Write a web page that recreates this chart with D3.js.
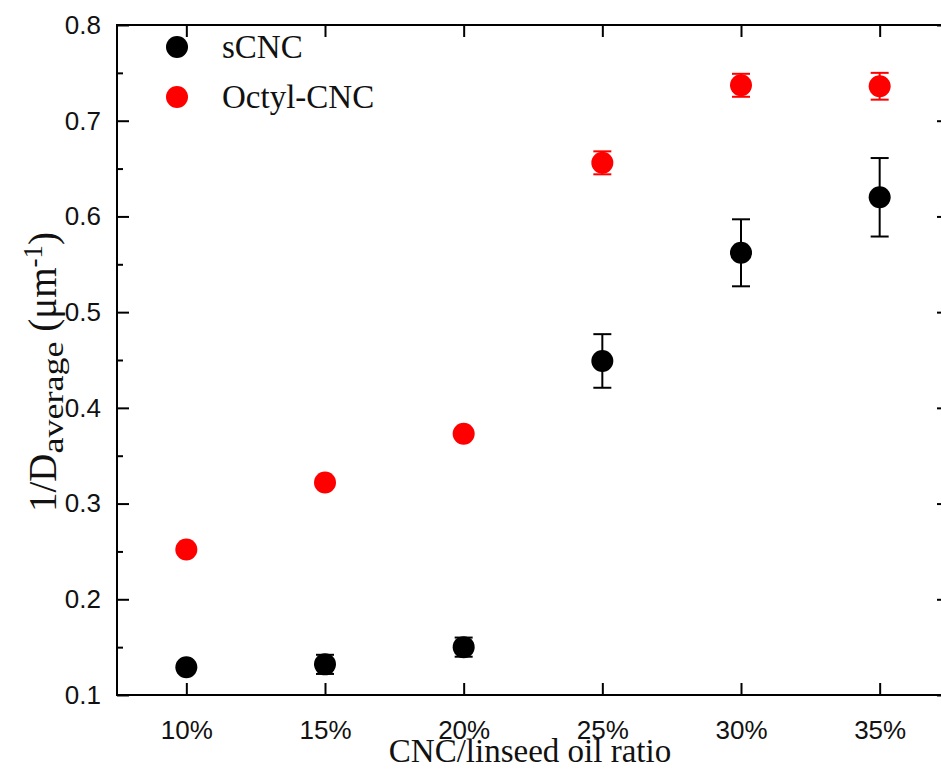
<!DOCTYPE html>
<html><head><meta charset="utf-8">
<script src="https://cdn.jsdelivr.net/npm/d3@7"></script>
<style>body{margin:0;background:#fff}svg{display:block}</style>
</head><body>
<svg id="c" width="941" height="774"></svg>
<script>
const categories = ["10%","15%","20%","25%","30%","35%"];
const sCNC = [0.129, 0.132, 0.150, 0.449, 0.562, 0.620];
const sCNCerr = [0.004, 0.010, 0.010, 0.028, 0.035, 0.041];
const octyl = [0.252, 0.322, 0.373, 0.656, 0.737, 0.736];
const octylErr = [0.003, 0.004, 0.004, 0.012, 0.012, 0.014];
const yTicks = [0.1,0.2,0.3,0.4,0.5,0.6,0.7,0.8];
const yMinor = [0.15,0.25,0.35,0.45,0.55,0.65,0.75];
const seriesNames = ["sCNC","Octyl-CNC"];
const seriesColors = ["#000000","#ff0000"];

const svg = d3.select("#c");
const L=117, R=949, T=25, B=695;
const x = d3.scaleLinear().domain([-0.5,5.5]).range([L,R]);
const y = d3.scaleLinear().domain([0.1,0.8]).range([B,T]);
const idx = categories.map((d,i)=>i);

svg.append("rect").attr("x",L).attr("y",T).attr("width",R-L).attr("height",B-T)
  .attr("fill","none").attr("stroke","#000").attr("stroke-width",2);

const tickFont = "'Liberation Sans', Arial, sans-serif";
const xb = svg.append("g").attr("transform",`translate(0,${B})`)
  .call(d3.axisBottom(x).tickValues(idx).tickFormat(i=>categories[i]).tickSize(-12).tickPadding(26));
const xt = svg.append("g").attr("transform",`translate(0,${T})`)
  .call(d3.axisTop(x).tickValues(idx).tickFormat("").tickSize(-12));
const yl = svg.append("g").attr("transform",`translate(${L},0)`)
  .call(d3.axisLeft(y).tickValues(yTicks).tickFormat(d3.format(".1f")).tickSize(-12).tickPadding(16));
const ylm = svg.append("g").attr("transform",`translate(${L},0)`)
  .call(d3.axisLeft(y).tickValues(yMinor).tickFormat("").tickSize(-6));
const yr = svg.append("g").attr("transform",`translate(${R},0)`)
  .call(d3.axisRight(y).tickValues(yTicks).tickFormat("").tickSize(-12));
const yrm = svg.append("g").attr("transform",`translate(${R},0)`)
  .call(d3.axisRight(y).tickValues(yMinor).tickFormat("").tickSize(-6));
[xb,xt,yl,ylm,yr,yrm].forEach(g=>{
  g.select(".domain").remove();
  g.selectAll(".tick line").attr("stroke","#000").attr("stroke-width",2);
  g.selectAll(".tick text").attr("font-family",tickFont).attr("font-size",26).attr("fill","#111");
});

const series = [
  {name:seriesNames[0], vals:sCNC, err:sCNCerr, color:seriesColors[0]},
  {name:seriesNames[1], vals:octyl, err:octylErr, color:seriesColors[1]}
];
series.forEach(s=>{
  const g = svg.append("g");
  const pts = s.vals.map((v,i)=>({i,v,e:s.err[i]}));
  g.selectAll("line.v").data(pts).join("line")
    .attr("x1",d=>x(d.i)).attr("x2",d=>x(d.i))
    .attr("y1",d=>y(d.v+d.e)).attr("y2",d=>y(d.v-d.e))
    .attr("stroke",s.color).attr("stroke-width",2);
  ["+","-"].forEach(sg=>{
    g.selectAll("line.c"+(sg==="+"?"p":"m")).data(pts).join("line")
      .attr("x1",d=>x(d.i)-9).attr("x2",d=>x(d.i)+9)
      .attr("y1",d=>y(sg==="+"?d.v+d.e:d.v-d.e)).attr("y2",d=>y(sg==="+"?d.v+d.e:d.v-d.e))
      .attr("stroke",s.color).attr("stroke-width",2);
  });
  g.selectAll("circle").data(pts).join("circle")
    .attr("cx",d=>x(d.i)).attr("cy",d=>y(d.v)).attr("r",11).attr("fill",s.color);
});

const serif = "'Liberation Serif', 'Times New Roman', serif";
const leg = svg.append("g");
seriesNames.forEach((n,i)=>{
  const cy = 47 + i*50;
  leg.append("circle").attr("cx",177).attr("cy",cy).attr("r",11).attr("fill",seriesColors[i]);
  leg.append("text").attr("x",222).attr("y",cy+11).attr("font-family",serif).attr("font-size",33)
    .attr("fill","#111").text(n);
});

svg.append("text").attr("x",530).attr("y",762).attr("text-anchor","middle")
  .attr("font-family",serif).attr("font-size",33).attr("fill","#111").text("CNC/linseed oil ratio");
const yt = svg.append("text").attr("transform","translate(56,372) rotate(-90)")
  .attr("text-anchor","middle").attr("font-family",serif).attr("font-size",39).attr("fill","#111");
yt.append("tspan").text("1/D");
yt.append("tspan").attr("font-size",29).attr("dy",7).attr("textLength",112).attr("lengthAdjust","spacingAndGlyphs").text("average");
yt.append("tspan").attr("dy",-7).text(" (μm");
yt.append("tspan").attr("font-size",27).attr("dy",-14).text("-1");
yt.append("tspan").attr("dy",14).text(")");
</script>
</body></html>
